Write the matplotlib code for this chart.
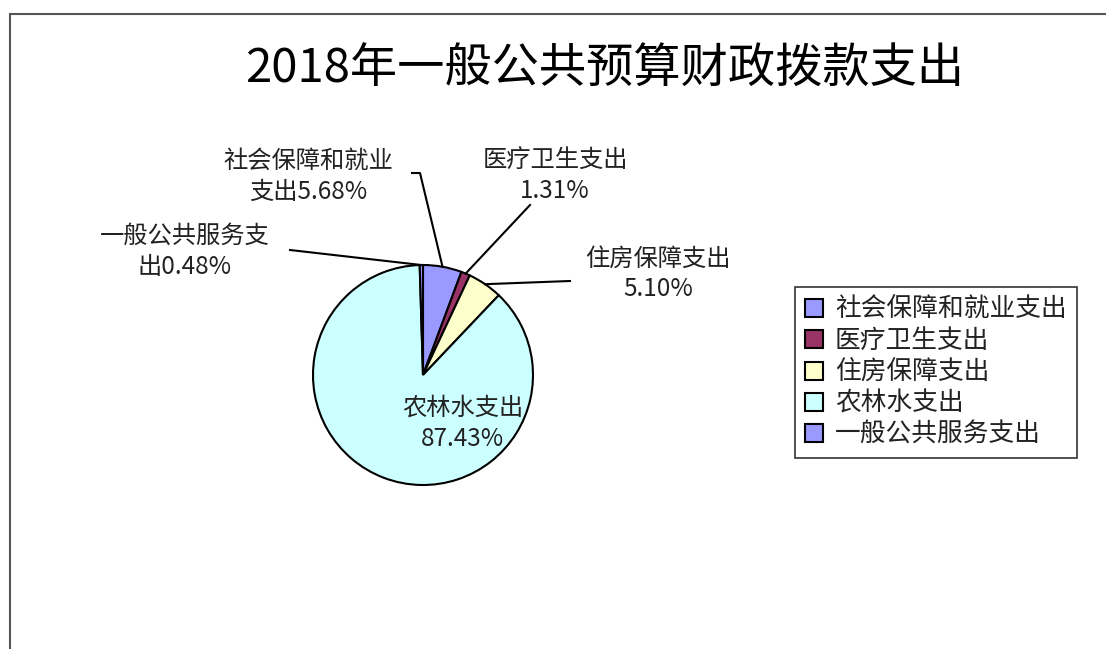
import numpy as np
import matplotlib
matplotlib.use("Agg")
import matplotlib.pyplot as plt
from matplotlib.patches import Patch
from matplotlib.lines import Line2D

plt.rcParams['font.family'] = ['Noto Sans CJK SC', 'DejaVu Sans']

# data
categories = ["社会保障和就业支出", "医疗卫生支出", "住房保障支出", "农林水支出", "一般公共服务支出"]
shares = [5.68, 1.31, 5.10, 87.43, 0.48]
colors = ["#9999FF", "#993366", "#FFFFCC", "#CCFFFF", "#9999FF"]
label_texts = ["社会保障和就业\n支出5.68%", "医疗卫生支出\n1.31%", "住房保障支出\n5.10%",
               "农林水支出\n87.43%", "一般公共服务支\n出0.48%"]

W, H = 1106, 649
fig = plt.figure(figsize=(W / 100, H / 100), dpi=100)
ax = fig.add_axes([0, 0, 1, 1])
ax.set_xlim(0, W)
ax.set_ylim(0, H)
ax.set_aspect('equal')
ax.axis('off')

# chart frame (only left and top edges visible)
fig.add_artist(Line2D([10 / W, 10 / W], [0, 1 - 14 / H], color="#555555", lw=1.5))
fig.add_artist(Line2D([10 / W, 1], [1 - 14 / H, 1 - 14 / H], color="#555555", lw=1.5))

cx, cy, r = 423, H - 375, 110
wedges, _ = ax.pie(shares, colors=colors, startangle=90, counterclock=False,
                   center=(cx, cy), radius=r,
                   wedgeprops=dict(edgecolor="black", linewidth=1.5))
ax.set_xlim(0, W)
ax.set_ylim(0, H)

# label positions (pixel layout) and leader line start points
label_pos = [(308, H - 176), (555, H - 176), (658, H - 274), (463, H - 423), (185, H - 251)]
line_start = [(420, H - 173), (530, H - 205), (570, H - 281), None, (290, H - 250)]

for i, w in enumerate(wedges):
    ang = np.deg2rad((w.theta1 + w.theta2) / 2)
    ex, ey = cx + r * np.cos(ang), cy + r * np.sin(ang)
    ax.text(label_pos[i][0], label_pos[i][1], label_texts[i], ha="center", va="center",
            fontsize=17.5, color="#222222", linespacing=1.25)
    if line_start[i] is not None:
        sx, sy = line_start[i]
        if i == 0:
            ax.plot([sx - 8, sx, ex], [sy, sy, ey], color="black", lw=1.5)
        else:
            ax.plot([sx, ex], [sy, ey], color="black", lw=1.5)

ax.text(605, H - 70, "2018年一般公共预算财政拨款支出", ha="center", va="center",
        fontsize=34, color="black")

handles = [Patch(facecolor=c, edgecolor="black", linewidth=1.5) for c in colors]
leg = fig.legend(handles, categories, loc="upper left",
                 bbox_to_anchor=(795 / W, 1 - 287 / H), fontsize=18.5,
                 frameon=True, fancybox=False, edgecolor="black",
                 handlelength=0.7, handleheight=0.7, handletextpad=0.45,
                 labelspacing=0.2, borderpad=0.4, borderaxespad=0)
leg.get_frame().set_linewidth(1.2)
for t in leg.get_texts():
    t.set_color("#222222")

fig.savefig("out.png", dpi=100)
